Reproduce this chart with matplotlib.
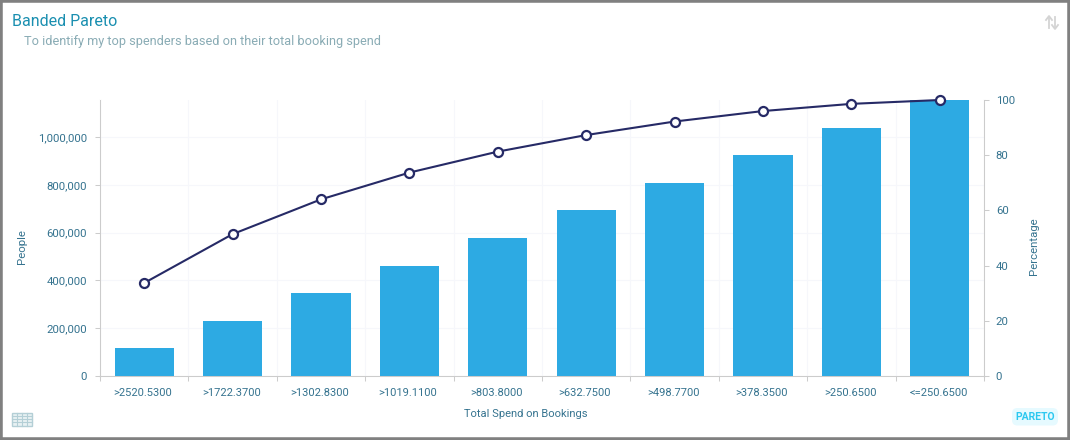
import matplotlib
matplotlib.use('Agg')
import matplotlib.pyplot as plt
from matplotlib.patches import Rectangle, FancyBboxPatch
from matplotlib.lines import Line2D

plt.rcParams['font.family'] = ['Roboto', 'DejaVu Sans']

categories = ['>2520.5300', '>1722.3700', '>1302.8300', '>1019.1100', '>803.8000',
              '>632.7500', '>498.7700', '>378.3500', '>250.6500', '<=250.6500']
people = [117000, 230000, 347000, 460000, 577000, 695000, 808000, 925000, 1038000, 1155000]
percentage = [33.7, 51.4, 64.0, 73.7, 81.3, 87.3, 92.2, 96.0, 98.6, 100.0]
people_ticks = [0, 200000, 400000, 600000, 800000, 1000000]
pct_ticks = [0, 20, 40, 60, 80, 100]

W, H = 1070, 440
TICK_COL = '#35738f'
AXIS_COL = '#cccccc'
GRID_COL = '#f6f7fb'


def px(x, y):
    """Pixel position (top left origin) to figure fraction."""
    return x / W, 1 - y / H


fig = plt.figure(figsize=(W / 100, H / 100), dpi=100, facecolor='white')
ax = fig.add_axes([100 / W, 1 - 376 / H, 884 / W, 276 / H])
ax2 = ax.twinx()

xs = list(range(len(categories)))
ax.bar(xs, people, width=0.67, color='#2daae3', zorder=3)
ax.set_xlim(-0.5, len(categories) - 0.5)
ax.set_ylim(0, people[-1])
ax.set_yticks(people_ticks)
ax.set_yticklabels([f'{v:,}' for v in people_ticks])
ax.set_xticks([x - 0.5 for x in xs] + [len(xs) - 0.5])
ax.set_xticklabels([])
for x, label in zip(xs, categories):
    ax.annotate(label, (x, 0), xycoords=('data', 'axes fraction'), xytext=(-1, -12.2),
                textcoords='offset points', ha='center', va='center',
                fontsize=8, color=TICK_COL)
ax.grid(True, color=GRID_COL, linewidth=0.8, zorder=0)
ax.set_axisbelow(True)
ax.tick_params(axis='both', length=3.5, width=0.75, color=AXIS_COL, labelcolor=TICK_COL,
               labelsize=8.2)
ax.tick_params(axis='y', pad=6)
ax.set_xlabel('Total Spend on Bookings', fontsize=8, color=TICK_COL)
ax.xaxis.set_label_coords(0.482, -0.119)
ax.set_ylabel('People', fontsize=8.2, color=TICK_COL)
ax.yaxis.set_label_coords(-0.083, 0.47)

ax2.plot(xs, percentage, color='#262a66', linewidth=1.5, marker='o', markersize=6.5,
         markerfacecolor='white', markeredgecolor='#262a66', markeredgewidth=1.6,
         zorder=5, clip_on=False)
ax2.set_ylim(0, 100)
ax2.set_yticks(pct_ticks)
ax2.tick_params(axis='y', length=3.5, width=0.75, color=AXIS_COL, labelcolor=TICK_COL,
                labelsize=8.2, pad=5)
ax2.set_ylabel('Percentage', fontsize=8.2, color=TICK_COL)
ax2.yaxis.set_label_coords(1.0505, 0.47)

for a in (ax, ax2):
    a.spines['top'].set_visible(False)
    for side in ('left', 'right', 'bottom'):
        a.spines[side].set_color(AXIS_COL)
        a.spines[side].set_linewidth(0.75)

# titles
fig.text(*px(12, 22), 'Banded Pareto', fontsize=11.5, color='#1a8fb0', va='center')
fig.text(*px(24, 41), 'To identify my top spenders based on their total booking spend',
         fontsize=9.15, color='#8aacb5', va='center')

# outer frame
fig.add_artist(Rectangle((0, 0), 1, 1, transform=fig.transFigure, fill=False,
                         edgecolor='#808080', linewidth=4))

# sort icon, top right
for pts in ([(1049, 28), (1049, 17)], [(1046, 20), (1049, 16), (1052, 20)],
            [(1055, 17), (1055, 28)], [(1052, 25), (1055, 29), (1058, 25)]):
    fig.add_artist(Line2D(*zip(*[px(*p) for p in pts]), color='#d4d4d4', linewidth=1.3))

# table icon, bottom left
tx, ty = px(12, 425.5)
fig.add_artist(Rectangle((tx, ty), 20 / W, 13 / H, transform=fig.transFigure,
                         facecolor='#e8f1f3', edgecolor='#b4cfd6', linewidth=1))
for gx in (17, 22, 27):
    fig.add_artist(Line2D(*zip(px(gx, 412.5), px(gx, 425.5)), color='#b4cfd6', linewidth=0.8))
for gy in (416, 419, 422):
    fig.add_artist(Line2D(*zip(px(12, gy), px(32, gy)), color='#b4cfd6', linewidth=0.8))

# pareto badge, bottom right
bx, by = px(1012, 425.5)
fig.add_artist(FancyBboxPatch((bx, by), 46 / W, 17.5 / H, transform=fig.transFigure,
                              boxstyle='round,pad=0,rounding_size=0.005',
                              mutation_aspect=W / H, facecolor='#e6faff', edgecolor='none'))
fig.text(*px(1035, 416.5), 'PARETO', fontsize=7.5, fontweight='bold', color='#2cc8f0',
         ha='center', va='center')

fig.savefig('out.png', dpi=100)
